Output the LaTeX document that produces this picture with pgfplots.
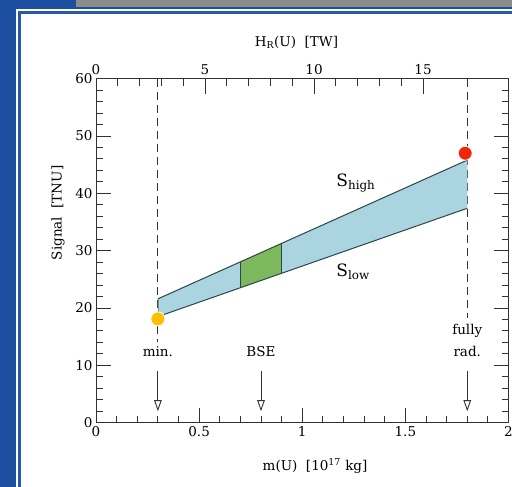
\documentclass[border=0pt]{standalone}
\usepackage{pgfplots}
\pgfplotsset{compat=1.18}
\usepackage{fontspec}
\setmainfont{DejaVu Serif}
\usetikzlibrary{arrows.meta}
\definecolor{bgblue}{RGB}{27,78,158}
\definecolor{frameblue}{RGB}{40,90,170}
\definecolor{bargrey}{RGB}{140,140,140}
\definecolor{bandblue}{RGB}{170,212,224}
\definecolor{bandgreen}{RGB}{124,184,92}
\definecolor{edge}{RGB}{45,70,70}
\definecolor{gold}{RGB}{255,192,0}
\definecolor{reddot}{RGB}{240,40,10}
\definecolor{axgrey}{RGB}{50,50,50}
\newcommand{\lf}{\fontsize{13.5}{16}\selectfont}
\begin{document}
\begin{tikzpicture}[x=1pt,y=1pt]
\useasboundingbox (0,0) rectangle (512,487);
\clip (0,0) rectangle (512,487);
\fill[bgblue] (0,0) rectangle (512,487);
\fill[bargrey] (76,480) rectangle (512,487);
\fill[white] (16,0) rectangle (512,477.7);
\draw[frameblue, line width=2.5pt] (19.5,-5) -- (19.5,474.7) -- (520,474.7);
\pgfplotsset{
  common/.style={
    at={(96pt,64.3pt)}, anchor=south west,
    scale only axis, width=412.5pt, height=344pt,
    tick align=inside,
    major tick length=15pt, minor tick length=7pt,
    every tick/.style={axgrey, line width=1pt},
    axis line style={axgrey, line width=1pt},
    /pgf/number format/assume math mode=true,
    tick label style={font=\lf, text=black},
  }
}
\begin{axis}[common,
  xmin=0, xmax=2, ymin=0, ymax=60,
  xtick={0,0.5,1,1.5,2}, minor x tick num=4,
  ytick={0,10,20,30,40,50,60}, minor y tick num=4,
  xtick pos=bottom, ytick pos=both,
  xticklabels={0,0.5,1,1.5,2},
  xlabel={m(U)~~[10\textsuperscript{17}~kg]},
  ylabel={Signal~~[TNU]},
  every axis x label/.style={at={(axis description cs:0.531,0)}, anchor=base, yshift=-48pt, font=\lf, text=black},
  every axis y label/.style={at={(axis description cs:-0.092,0.61)}, anchor=center, rotate=90, font=\lf, text=black},
  clip=false,
]
% dashed reference lines
\addplot[axgrey, line width=0.9pt, dash pattern=on 8pt off 5pt] coordinates {(0.3,60) (0.3,14.1)};
\addplot[axgrey, line width=0.9pt, dash pattern=on 8pt off 5pt] coordinates {(1.8,60) (1.8,18.3)};
% band
\addplot[fill=bandblue, draw=none] coordinates {(0.3,18.5) (1.8,37.4) (1.8,45.8) (0.3,21.6)} -- cycle;
\addplot[fill=bandgreen, draw=none] coordinates {(0.7,23.54) (0.9,26.06) (0.9,31.28) (0.7,28.05)} -- cycle;
\addplot[edge, line width=1pt] coordinates {(0.3,21.6) (1.8,45.8)};
\addplot[edge, line width=1pt] coordinates {(0.3,18.5) (1.8,37.4)};
\addplot[edge, line width=1pt] coordinates {(0.7,23.54) (0.7,28.05)};
\addplot[edge, line width=1pt] coordinates {(0.9,26.06) (0.9,31.28)};
\addplot[edge!60, line width=0.6pt] coordinates {(0.3,18.5) (0.3,21.6)};
% dots
\addplot[only marks, mark=*, mark size=7pt, mark options={fill=gold, draw=white, line width=0.8pt}] coordinates {(0.3,18.1)};
\addplot[only marks, mark=*, mark size=7pt, mark options={fill=reddot, draw=white, line width=0.8pt}] coordinates {(1.79,47.0)};
% arrows
\addplot[axgrey, line width=0.9pt, -{Triangle[open, length=11pt, width=7.5pt]}] coordinates {(0.3,9) (0.3,2)};
\addplot[axgrey, line width=0.9pt, -{Triangle[open, length=11pt, width=7.5pt]}] coordinates {(0.8,9) (0.8,2)};
\addplot[axgrey, line width=0.9pt, -{Triangle[open, length=11pt, width=7.5pt]}] coordinates {(1.8,9) (1.8,2)};
% text
\node[font=\lf, text=black, anchor=base] at (axis cs:0.3,11.6) {min.};
\node[font=\lf, text=black, anchor=base] at (axis cs:0.8,11.6) {BSE};
\node[font=\lf, text=black, anchor=base] at (axis cs:1.8,11.6) {rad.};
\node[font=\lf, text=black, anchor=base] at (axis cs:1.8,15.35) {fully};
\node[font=\fontsize{17}{19}\selectfont, text=black, anchor=base west, inner sep=0pt] at (axis cs:1.165,41.2) {S\textsubscript{high}};
\node[font=\fontsize{17}{19}\selectfont, text=black, anchor=base west, inner sep=0pt] at (axis cs:1.165,25.5) {S\textsubscript{low}};
\end{axis}
\begin{axis}[common,
  xmin=0, xmax=18.92, ymin=0, ymax=60,
  axis x line*=top, axis y line=none,
  xtick={0,5,10,15}, minor x tick num=4,
  xlabel={H\textsubscript{R}(U)~~[TW]},
  every axis x label/.style={at={(axis description cs:0.486,1)}, anchor=base, yshift=32pt, font=\lf, text=black},
]
\addplot[draw=none] coordinates {(0,0)};
\end{axis}
\end{tikzpicture}
\end{document}
